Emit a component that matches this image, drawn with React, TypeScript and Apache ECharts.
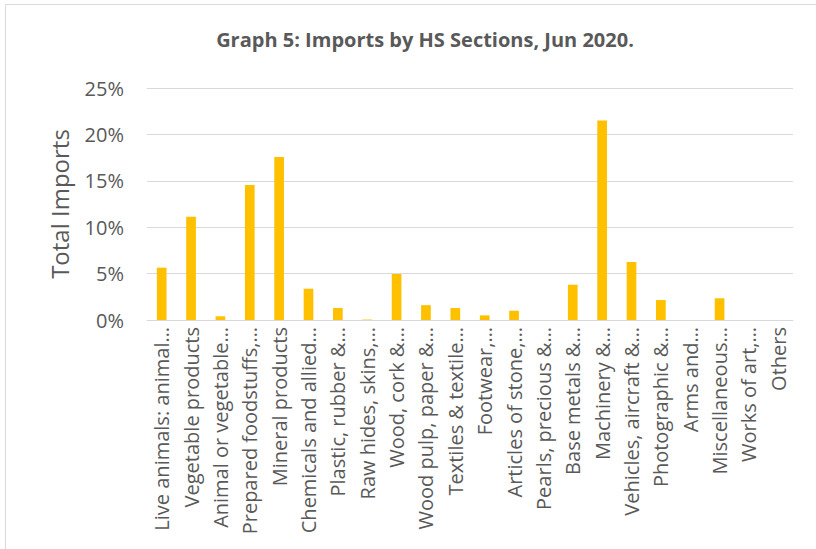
import React, { useEffect, useRef } from "react";
import * as echarts from "echarts";

const categories: string[] = [
  "Live animals: animal…",
  "Vegetable products",
  "Animal or vegetable…",
  "Prepared foodstuffs,…",
  "Mineral products",
  "Chemicals and allied…",
  "Plastic, rubber &…",
  "Raw hides, skins,…",
  "Wood, cork &…",
  "Wood pulp, paper &…",
  "Textiles & textile…",
  "Footwear,…",
  "Articles of stone,…",
  "Pearls, precious &…",
  "Base metals &…",
  "Machinery &…",
  "Vehicles, aircraft &…",
  "Photographic &…",
  "Arms and…",
  "Miscellaneous…",
  "Works of art,…",
  "Others",
];

const importsShare: number[] = [
  5.64, 11.13, 0.4, 14.55, 17.56, 3.37, 1.29, 0.05, 4.96, 1.6, 1.29, 0.5, 1.0,
  0.0, 3.8, 21.5, 6.25, 2.15, 0.0, 2.34, 0.0, 0.0,
];

const yTicks = { min: 0, max: 25, interval: 5 };

const FONT = "'Open Sans', sans-serif";
const GREY = "#595959";

export default function App() {
  const ref = useRef<HTMLDivElement>(null);
  useEffect(() => {
    if (!ref.current) return;
    const chart = echarts.init(ref.current, undefined, { renderer: "svg" });
    chart.setOption({
      animation: false,
      backgroundColor: "#ffffff",
      textStyle: { fontFamily: FONT },
      title: {
        text: "Graph 5: Imports by HS Sections, Jun 2020.",
        left: 420,
        textAlign: "center",
        top: 24,
        textStyle: { fontFamily: FONT, fontSize: 20, fontWeight: "bold", color: GREY },
      },
      graphic: [
        {
          type: "rect",
          shape: { x: 5.5, y: 4.5, width: 900, height: 700 },
          style: { fill: "none", stroke: "#d9d9d9", lineWidth: 1 },
          silent: true,
        },
      ],
      grid: { left: 147, right: 23, top: 88, bottom: 229 },
      xAxis: {
        type: "category",
        data: categories,
        axisLine: { show: true, lineStyle: { color: "#d9d9d9", width: 1 } },
        axisTick: { show: false },
        axisLabel: {
          interval: 0,
          rotate: 90,
          margin: 7,
          fontSize: 20,
          color: GREY,
          fontFamily: FONT,
        },
      },
      yAxis: {
        type: "value",
        min: yTicks.min,
        max: yTicks.max,
        interval: yTicks.interval,
        name: "Total Imports",
        nameLocation: "middle",
        nameGap: 76,
        nameTextStyle: { fontSize: 24, color: GREY, fontFamily: FONT },
        axisLine: { show: false },
        axisTick: { show: false },
        axisLabel: {
          formatter: "{value}%",
          fontSize: 20,
          color: GREY,
          margin: 23,
          fontFamily: FONT,
        },
        splitLine: { lineStyle: { color: "#d9d9d9", width: 1 } },
      },
      series: [
        {
          type: "bar",
          data: importsShare,
          barWidth: "33%",
          itemStyle: { color: "#FFC000" },
        },
      ],
    });
    return () => chart.dispose();
  }, []);
  return (
    <div
      ref={ref}
      style={{ position: "fixed", left: 0, top: 0, width: 816, height: 549 }}
    />
  );
}
